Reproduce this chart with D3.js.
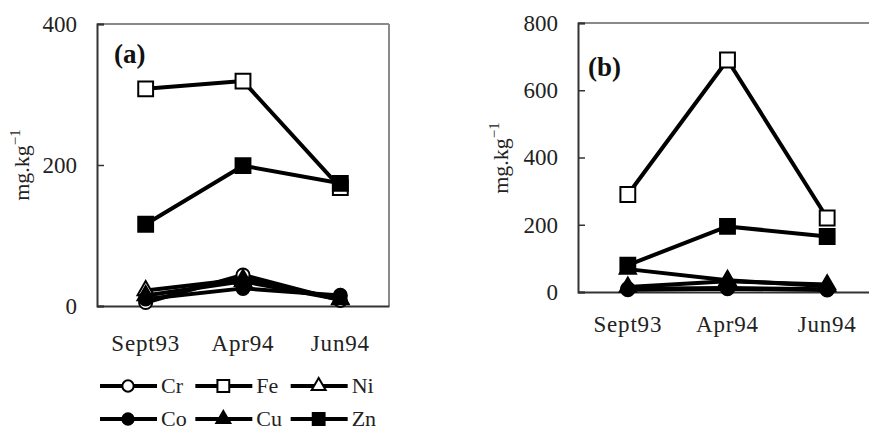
<!DOCTYPE html>
<html>
<head>
<meta charset="utf-8">
<script src="https://cdn.jsdelivr.net/npm/d3@7"></script>
<style>
  body { margin: 0; background: #fff; }
  svg, svg text { font-family: "Liberation Serif", "DejaVu Serif", serif; }
</style>
</head>
<body>
<svg width="869" height="433"></svg>
<script>
// data
const months = ["Sept93", "Apr94", "Jun94"];
const metals = ["Cr", "Fe", "Ni", "Co", "Cu", "Zn"];
const siteA = {
  Cr: [5, 44, 8],
  Fe: [308, 319, 168],
  Ni: [22, 38, 10],
  Co: [10, 25, 15],
  Cu: [15, 35, 9],
  Zn: [116, 199, 174]
};
const siteB = {
  Cr: [10, 12, 8],
  Fe: [290, 690, 220],
  Ni: [68, 35, 17],
  Co: [7, 10, 6],
  Cu: [15, 32, 22],
  Zn: [80, 195, 165]
};
const ticksA = [0, 200, 400];
const ticksB = [0, 200, 400, 600, 800];

// marker look for each metal
const markers = {
  Cr: {shape: d3.symbolCircle, fill: "#fff"},
  Fe: {shape: d3.symbolSquare, fill: "#fff"},
  Ni: {shape: d3.symbolTriangle, fill: "#fff"},
  Co: {shape: d3.symbolCircle, fill: "#000"},
  Cu: {shape: d3.symbolTriangle, fill: "#000"},
  Zn: {shape: d3.symbolSquare, fill: "#000"}
};
const bigSize = {circle: 135, square: 220, triangle: 115};
const smallSize = {circle: 100, square: 140, triangle: 85};

function sizeOf(shape, table) {
  if (shape === d3.symbolCircle) return table.circle;
  if (shape === d3.symbolSquare) return table.square;
  return table.triangle;
}

const serif = "'Liberation Serif', 'DejaVu Serif', serif";
const svg = d3.select("svg");

function panel(opt) {
  const g = svg.append("g");
  const x = d3.scaleBand().domain(months).range([opt.left, opt.right]);
  const y = d3.scaleLinear().domain([0, opt.max]).range([opt.bottom, opt.top]);
  const cx = m => x(m) + x.bandwidth() / 2;

  // frame: light top/right, dark left/bottom
  g.append("line").attr("x1", opt.left).attr("x2", opt.right)
    .attr("y1", opt.top).attr("y2", opt.top)
    .attr("stroke", "#8a8a8a").attr("stroke-width", 2);
  g.append("line").attr("x1", opt.right).attr("x2", opt.right)
    .attr("y1", opt.top).attr("y2", opt.bottom)
    .attr("stroke", "#8a8a8a").attr("stroke-width", 2);

  const yAxis = g.append("g")
    .attr("transform", "translate(" + opt.left + ",0)")
    .call(d3.axisLeft(y).tickValues(opt.ticks).tickSize(-7).tickPadding(20))
    .attr("font-family", null).attr("font-size", null);
  yAxis.select(".domain").attr("stroke", "#333").attr("stroke-width", 2);
  yAxis.selectAll(".tick line").attr("stroke", "#333").attr("stroke-width", 1.5);
  yAxis.selectAll("text").style("font-size", "23px").style("font-family", serif)
    .attr("fill", "#222");

  const xAxis = g.append("g")
    .attr("transform", "translate(0," + opt.bottom + ")")
    .call(d3.axisBottom(x).tickSize(0).tickPadding(opt.labelPad))
    .attr("font-family", null).attr("font-size", null);
  xAxis.select(".domain").attr("stroke", "#333").attr("stroke-width", 2);
  xAxis.selectAll("text").style("font-size", "23px").style("font-family", serif)
    .attr("letter-spacing", 0.8).attr("fill", "#222");

  // y title
  const t = g.append("text")
    .attr("transform", "translate(" + opt.titleX + "," + opt.titleY + ") rotate(-90)")
    .attr("text-anchor", "middle")
    .style("font-family", serif).style("font-size", "22px").attr("fill", "#222");
  t.append("tspan").text("mg.kg");
  t.append("tspan").attr("dy", -9).style("font-size", "15px").text("\u22121");

  g.append("text").attr("x", opt.tagX).attr("y", opt.tagY)
    .style("font-family", serif).style("font-size", "27px")
    .attr("font-weight", "bold").attr("fill", "#111")
    .text(opt.tag);

  const line = d3.line().x((d, i) => cx(months[i])).y(d => y(d));

  metals.forEach(m => {
    const vals = opt.data[m];
    g.append("path").attr("d", line(vals))
      .attr("fill", "none").attr("stroke", "#000").attr("stroke-width", 4)
      .attr("stroke-linejoin", "round");
    const mk = markers[m];
    g.selectAll(null).data(vals).enter().append("path")
      .attr("transform", (d, i) => "translate(" + cx(months[i]) + "," + y(d) + ")")
      .attr("d", d3.symbol().type(mk.shape).size(sizeOf(mk.shape, bigSize)))
      .attr("fill", mk.fill).attr("stroke", "#000").attr("stroke-width", 2);
  });
}

panel({left: 97, right: 389, top: 24, bottom: 306, max: 400, ticks: ticksA,
  data: siteA, labelPad: 29, titleX: 29, titleY: 165, tag: "(a)", tagX: 114, tagY: 63});
panel({left: 578, right: 877, top: 23, bottom: 292, max: 800, ticks: ticksB,
  data: siteB, labelPad: 24, titleX: 508, titleY: 158, tag: "(b)", tagX: 588, tagY: 76});

// legend
const legX = d3.scaleBand().domain([0, 1, 2]).range([100, 386]);
const legRows = [386, 419];
metals.forEach((m, i) => {
  const col = i % 3, row = Math.floor(i / 3);
  const x0 = legX(col), yy = legRows[row];
  const lg = svg.append("g");
  lg.append("line").attr("x1", x0).attr("x2", x0 + 57).attr("y1", yy).attr("y2", yy)
    .attr("stroke", "#000").attr("stroke-width", 4);
  const mk = markers[m];
  lg.append("path").attr("transform", "translate(" + (x0 + 28) + "," + yy + ")")
    .attr("d", d3.symbol().type(mk.shape).size(sizeOf(mk.shape, smallSize)))
    .attr("fill", mk.fill).attr("stroke", "#000").attr("stroke-width", 2);
  lg.append("text").attr("x", x0 + 61).attr("y", yy + 7)
    .style("font-family", serif).style("font-size", "22px")
    .attr("fill", "#222").text(m);
});
</script>
</body>
</html>
